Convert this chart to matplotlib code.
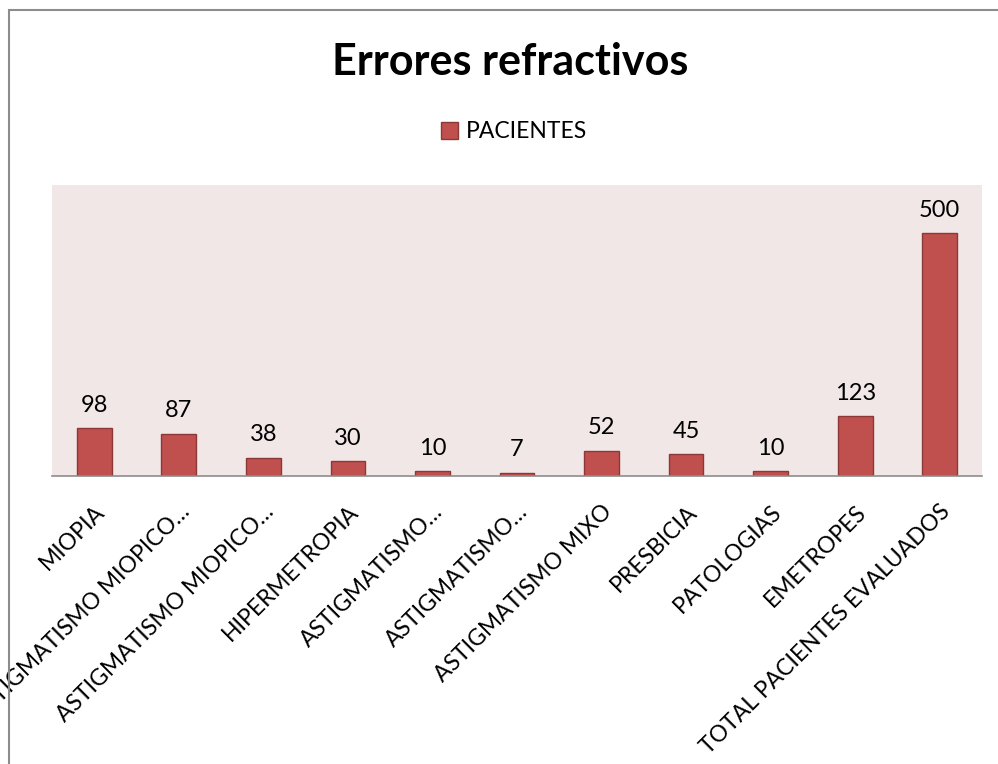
import numpy as np
import matplotlib.pyplot as plt
from matplotlib.patches import Rectangle

categorias = ['MIOPIA', 'ASTIGMATISMO MIOPICO…', 'ASTIGMATISMO MIOPICO…', 'HIPERMETROPIA',
              'ASTIGMATISMO…', 'ASTIGMATISMO…', 'ASTIGMATISMO MIXO', 'PRESBICIA',
              'PATOLOGIAS', 'EMETROPES', 'TOTAL PACIENTES EVALUADOS']
pacientes = [98, 87, 38, 30, 10, 7, 52, 45, 10, 123, 500]

plt.rcParams['font.family'] = ['Lato', 'DejaVu Sans']

fig = plt.figure(figsize=(9.98, 7.64), dpi=100)
W, H = 998, 764
ax = fig.add_axes([52 / W, 1 - 476 / H, (982 - 52) / W, (476 - 185) / H])
ax.set_facecolor('#F2E7E7')

x = np.arange(len(categorias))
bars = ax.bar(x, pacientes, width=0.41, color='#C0504D', edgecolor='#8C3836', linewidth=1.0,
              label='PACIENTES')
for xi, v in zip(x, pacientes):
    ax.annotate(str(v), (xi, v), xytext=(0, 9), textcoords='offset points',
                ha='center', va='bottom', fontsize=17)

ax.set_xlim(-0.5, len(categorias) - 0.5)
ax.set_ylim(0, 600)
ax.set_yticks([])
ax.set_xticks(x)
ax.set_xticklabels(categorias, rotation=45, ha='right', va='top', rotation_mode='anchor', fontsize=16.5)
ax.tick_params(axis='x', length=0, pad=18)
for s in ['top', 'right', 'left']:
    ax.spines[s].set_visible(False)
ax.spines['bottom'].set_color('#8C8C8C')
ax.spines['bottom'].set_linewidth(1.2)

fig.text(0.511, 1 - 62 / H, 'Errores refractivos', ha='center', va='center',
         fontsize=31, fontweight='bold')
fig.legend(handles=[bars], loc='center', bbox_to_anchor=(514 / W, 1 - 132 / H),
           frameon=False, fontsize=16.5, handlelength=0.75, handleheight=0.75, handletextpad=0.35)

# chart border (only left and top visible)
fig.add_artist(Rectangle((8.5 / W, -0.1), 1.2, 1.1 - 9.5 / H, transform=fig.transFigure,
                         fill=False, edgecolor='#8C8C8C', linewidth=1.5))

fig.savefig('out.png', dpi=100)
